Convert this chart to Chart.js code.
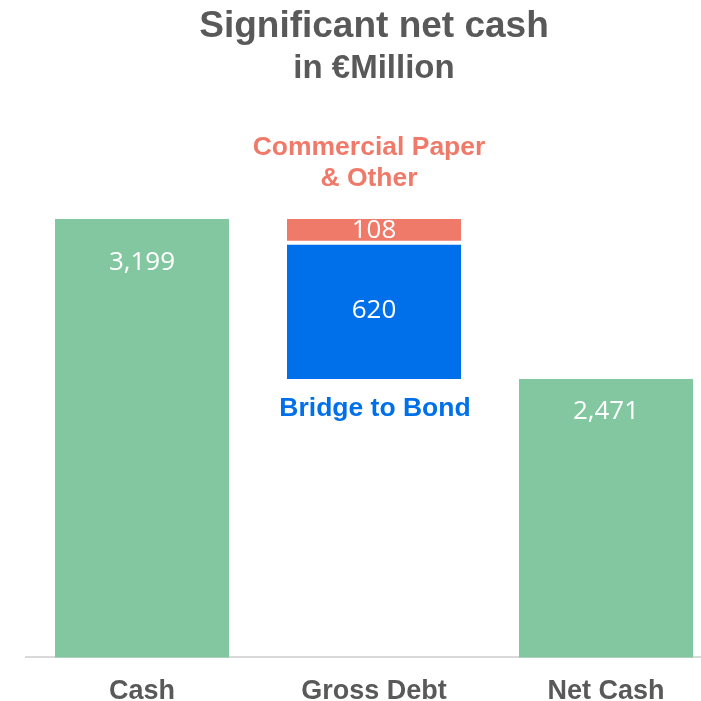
<!DOCTYPE html>
<html>
<head>
<meta charset="utf-8">
<script src="https://cdn.jsdelivr.net/npm/chart.js@4.4.1/dist/chart.umd.min.js"></script>
<style>
  html, body { margin: 0; padding: 0; background: #ffffff; overflow: hidden; }
  #wrap { width: 701px; height: 701px; overflow: hidden; position: relative; }
  canvas { display: block; }
</style>
</head>
<body>
<div id="wrap"><canvas id="c" width="722" height="725"></canvas></div>
<script>
// Net cash bridge, € million
const categories = ['Cash', 'Gross Debt', 'Net Cash'];
const totals = [3199, null, 2471];          // Cash and Net Cash columns
const bridgeToBond = 620;                   // part of gross debt
const commercialPaper = 108;                // part of gross debt
const totalLabels = ['3,199', null, '2,471'];

// Gross debt segments float between net cash and cash
const netCash = totals[2];
const bridgeRange = [null, [netCash, netCash + bridgeToBond], null];
const paperRange = [null, [netCash + bridgeToBond, netCash + bridgeToBond + commercialPaper], null];

const GREEN = '#82C7A0';
const BLUE = '#0070EA';
const SALMON = '#F07A69';
const GREY = '#595959';

// writes the value inside every bar and the segment captions
const barText = {
  id: 'barText',
  afterDatasetsDraw(chart) {
    const ctx = chart.ctx;
    ctx.save();
    ctx.textAlign = 'center';
    ctx.textBaseline = 'middle';
    ctx.fillStyle = '#ffffff';
    ctx.font = '26px "Open Sans"';

    const totalMeta = chart.getDatasetMeta(0);
    const topOffsets = [44, null, 33];
    totalMeta.data.forEach((bar, i) => {
      if (totals[i] == null) return;
      ctx.fillText(totalLabels[i], bar.x, bar.y + topOffsets[i]);
    });

    const blueBar = chart.getDatasetMeta(1).data[1];
    const redBar = chart.getDatasetMeta(2).data[1];
    const bc = blueBar.getCenterPoint();
    const rc = redBar.getCenterPoint();
    ctx.fillText(String(bridgeToBond), bc.x, bc.y);
    ctx.fillText(String(commercialPaper), rc.x, rc.y);

    ctx.font = 'bold 26.5px "Liberation Sans", Arial, sans-serif';
    ctx.fillStyle = SALMON;
    const redTop = Math.min(redBar.y, redBar.base);
    ctx.fillText('Commercial Paper', rc.x - 5, redTop - 71);
    ctx.fillText('& Other', rc.x - 5, redTop - 40);

    ctx.fillStyle = BLUE;
    const blueBottom = Math.max(blueBar.y, blueBar.base);
    ctx.fillText('Bridge to Bond', bc.x + 1, blueBottom + 30);
    ctx.restore();
  }
};

new Chart(document.getElementById('c'), {
  type: 'bar',
  data: {
    labels: categories,
    datasets: [
      {
        label: 'Total',
        data: totals,
        backgroundColor: GREEN,
        borderWidth: 0
      },
      {
        label: 'Bridge to Bond',
        data: bridgeRange,
        backgroundColor: BLUE,
        borderColor: '#ffffff',
        borderWidth: { top: 2, bottom: 0, left: 0, right: 0 },
        borderSkipped: false
      },
      {
        label: 'Commercial Paper & Other',
        data: paperRange,
        backgroundColor: SALMON,
        borderColor: '#ffffff',
        borderWidth: { top: 0, bottom: 2, left: 0, right: 0 },
        borderSkipped: false
      }
    ]
  },
  options: {
    responsive: false,
    animation: false,
    layout: { padding: { left: 26, right: 0, top: 0, bottom: 0 } },
    datasets: {
      bar: {
        grouped: false,
        categoryPercentage: 1,
        barPercentage: 0.75
      }
    },
    plugins: {
      legend: { display: false },
      tooltip: { enabled: false },
      title: {
        display: true,
        text: 'Significant net cash',
        color: GREY,
        font: { family: '"Liberation Sans", Arial, sans-serif', size: 37, weight: 'bold', lineHeight: 1.2 },
        padding: { top: 4.5, bottom: 0 }
      },
      subtitle: {
        display: true,
        text: 'in €Million',
        color: GREY,
        font: { family: '"Liberation Sans", Arial, sans-serif', size: 33, weight: 'bold', lineHeight: 1.2 },
        padding: { top: 0, bottom: 130.5 }
      }
    },
    scales: {
      x: {
        grid: { display: false, drawTicks: false },
        border: { display: true, color: '#D9D9D9', width: 2 },
        ticks: {
          color: GREY,
          padding: 17.6,
          font: { family: '"Liberation Sans", Arial, sans-serif', size: 27, weight: 'bold', lineHeight: 1.2 }
        }
      },
      y: {
        display: false,
        min: 1205,
        max: 3199
      }
    }
  },
  plugins: [barText]
});
</script>
</body>
</html>
